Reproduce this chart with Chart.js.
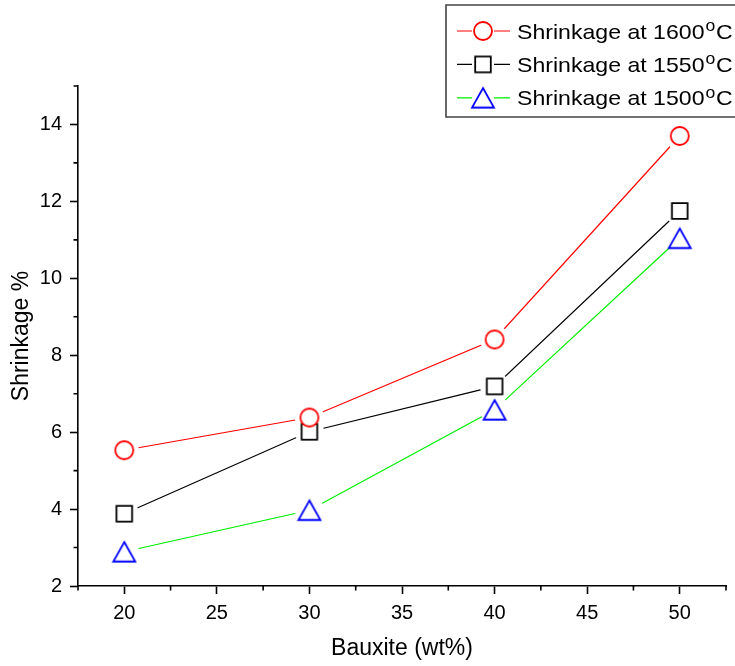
<!DOCTYPE html>
<html>
<head>
<meta charset="utf-8">
<script src="https://cdn.jsdelivr.net/npm/chart.js@4.4.1/dist/chart.umd.min.js"></script>
<style>
  html, body { margin: 0; padding: 0; background: #fff; }
  canvas { display: block; }
</style>
</head>
<body>
<canvas id="chart" width="735" height="666"></canvas>
<script>
// Bauxite content (wt%) and measured firing shrinkage (%)
const bauxite = [20, 30, 40, 50];
const temperatures = [1600, 1550, 1500];
const shrink1600 = [5.53, 6.38, 8.41, 13.70];
const shrink1550 = [3.88, 6.01, 7.19, 11.75];
const shrink1500 = [2.89, 3.97, 6.58, 11.04];

// Axis ticks
const xTicks = [20, 25, 30, 35, 40, 45, 50];
const yTicks = [2, 4, 6, 8, 10, 12, 14];
const xMinorTicks = [17.5, 22.5, 27.5, 32.5, 37.5, 42.5, 47.5, 52.5];
const yMinorTicks = [3, 5, 7, 9, 11, 13, 15];

const FONT = '"Liberation Sans", Arial, Helvetica, sans-serif';

// Hollow marker glyphs, centred on their bounding box
function makeMarker(kind, color) {
  const c = document.createElement('canvas');
  c.width = 26; c.height = 26;
  const g = c.getContext('2d');
  g.lineWidth = 1.8;
  g.strokeStyle = color;
  g.fillStyle = '#fff';
  g.beginPath();
  if (kind === 'circle') {
    g.arc(13, 13, 9, 0, Math.PI * 2);
  } else if (kind === 'square') {
    g.rect(13 - 7.8, 13 - 7.8, 15.6, 15.6);
  } else {
    const w = 22, h = 19.5;
    g.moveTo(13, 13 - h / 2);
    g.lineTo(13 + w / 2, 13 + h / 2);
    g.lineTo(13 - w / 2, 13 + h / 2);
    g.closePath();
  }
  g.fill();
  g.stroke();
  return c;
}

const seriesValues = [shrink1600, shrink1550, shrink1500];
const lineColors = ['#ff0000', '#000000', '#00ee00'];
const markerKinds = ['circle', 'square', 'triangle'];
const markerColors = ['#ff0000', '#000000', '#0000ff'];

const toPoints = vals => bauxite.map((x, i) => ({ x: x, y: vals[i] }));

const datasets = [];
seriesValues.forEach((vals, i) => {
  const label = 'Shrinkage at ' + temperatures[i] + '\u00B0C';
  // connecting line
  datasets.push({
    label: label,
    data: toPoints(vals),
    borderColor: lineColors[i],
    borderWidth: 1.2,
    pointRadius: 0,
    tension: 0,
    fill: false,
    order: 3
  });
  // white halo that leaves a small gap between line and symbol
  datasets.push({
    label: label,
    data: toPoints(vals),
    showLine: false,
    pointStyle: 'circle',
    pointRadius: 14.5,
    pointBackgroundColor: '#ffffff',
    pointBorderWidth: 0,
    order: 2
  });
  // symbol
  datasets.push({
    label: label,
    data: toPoints(vals),
    showLine: false,
    pointStyle: makeMarker(markerKinds[i], markerColors[i]),
    legendLine: lineColors[i],
    isMarker: true,
    order: 1
  });
});

// Minor tick marks along both axes
const minorTicks = {
  id: 'minorTicks',
  afterDraw(chart) {
    const { ctx, chartArea, scales } = chart;
    ctx.save();
    ctx.strokeStyle = '#000';
    ctx.lineWidth = 1.6;
    ctx.beginPath();
    yMinorTicks.forEach(v => {
      const y = scales.y.getPixelForValue(v);
      ctx.moveTo(chartArea.left - 4.5, y);
      ctx.lineTo(chartArea.left, y);
    });
    xMinorTicks.forEach(v => {
      const x = scales.x.getPixelForValue(v);
      ctx.moveTo(x, chartArea.bottom);
      ctx.lineTo(x, chartArea.bottom + 4.5);
    });
    ctx.stroke();
    ctx.restore();
  }
};

// Framed legend: line - symbol - line, label with superscript degree "o"
const boxLegend = {
  id: 'boxLegend',
  afterDraw(chart, args, opts) {
    const { ctx } = chart;
    const items = chart.data.datasets.filter(d => d.isMarker);
    const sx = opts.stretch;
    ctx.save();
    ctx.strokeStyle = '#444';
    ctx.lineWidth = 1.6;
    ctx.fillStyle = '#fff';
    ctx.beginPath();
    ctx.rect(opts.left, opts.top, opts.width, opts.height);
    ctx.fill();
    ctx.stroke();
    items.forEach((d, i) => {
      const cy = opts.firstRow + i * opts.rowGap;
      const mx = opts.symbolX;
      ctx.strokeStyle = d.legendLine;
      ctx.lineWidth = 1.2;
      ctx.beginPath();
      ctx.moveTo(mx - 26, cy); ctx.lineTo(mx - 11, cy);
      ctx.moveTo(mx + 11, cy); ctx.lineTo(mx + 27, cy);
      ctx.stroke();
      const img = d.pointStyle;
      ctx.drawImage(img, mx - img.width / 2, cy - img.height / 2);

      const parts = d.label.split('\u00B0');
      const base = cy + 7.5;
      ctx.fillStyle = '#000';
      ctx.textBaseline = 'alphabetic';
      ctx.textAlign = 'left';
      let x = opts.textX;
      const put = (txt, size, y) => {
        ctx.font = size + 'px ' + FONT;
        ctx.save();
        ctx.translate(x, y);
        ctx.scale(sx, 1);
        ctx.fillText(txt, 0, 0);
        ctx.restore();
        return ctx.measureText(txt).width * sx;
      };
      x += put(parts[0], 21, base) + 1;
      x += put('o', 16, base - 7.5) + 0.8;
      put(parts[1], 21, base);
    });
    ctx.restore();
  }
};

new Chart(document.getElementById('chart'), {
  type: 'line',
  data: { datasets: datasets },
  plugins: [minorTicks, boxLegend],
  options: {
    responsive: false,
    animation: false,
    events: [],
    layout: { autoPadding: false, padding: { top: 86, right: 9, left: 0, bottom: 0 } },
    plugins: {
      legend: { display: false },
      tooltip: { enabled: false },
      boxLegend: {
        left: 446, top: 5, width: 320, height: 112,
        firstRow: 31, rowGap: 33.4, symbolX: 483, textX: 517, stretch: 1.1
      }
    },
    scales: {
      x: {
        type: 'linear',
        min: 17.5,
        max: 52.5,
        afterBuildTicks: s => { s.ticks = xTicks.map(v => ({ value: v })); },
        afterFit: s => { s.height = 80; s.paddingLeft = 0; s.paddingRight = 0; },
        border: { display: true, color: '#000', width: 1.6 },
        grid: { display: true, drawOnChartArea: false, drawTicks: true, tickLength: 8, tickWidth: 1.6, tickColor: '#000' },
        ticks: { color: '#000', font: { family: FONT, size: 20 }, padding: 7, maxRotation: 0, autoSkip: false },
        title: { display: true, text: 'Bauxite (wt%)', color: '#000', font: { family: FONT, size: 23 }, padding: { top: 0, bottom: 4 } }
      },
      y: {
        type: 'linear',
        min: 2,
        max: 15,
        afterBuildTicks: s => { s.ticks = yTicks.map(v => ({ value: v })); },
        afterFit: s => { s.width = 78; s.paddingTop = 0; s.paddingBottom = 0; },
        border: { display: true, color: '#000', width: 1.6 },
        grid: { display: true, drawOnChartArea: false, drawTicks: true, tickLength: 8, tickWidth: 1.6, tickColor: '#000' },
        ticks: { color: '#000', font: { family: FONT, size: 20 }, padding: 8, autoSkip: false },
        title: { display: true, text: 'Shrinkage %', color: '#000', font: { family: FONT, size: 23 }, padding: { top: 8, bottom: 0 } }
      }
    }
  }
});
</script>
</body>
</html>
